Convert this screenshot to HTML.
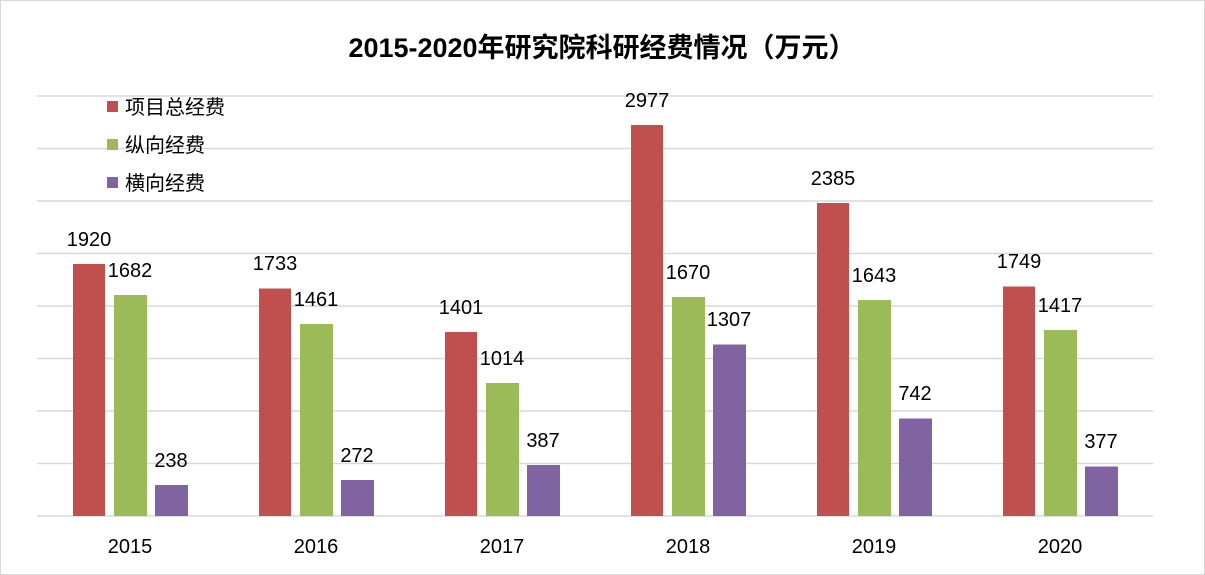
<!DOCTYPE html>
<html><head><meta charset="utf-8"><style>
body{margin:0;background:#fff}
svg{display:block}
text{font-family:"Liberation Sans","Noto Sans CJK SC",sans-serif;fill:#000}
</style></head><body>
<svg width="1205" height="575" viewBox="0 0 1205 575">
<rect x="0.5" y="0.5" width="1204" height="574" fill="#fff" stroke="#d9d9d9"/>
<text x="602" y="57" font-size="27" font-weight="bold" text-anchor="middle">2015-2020年研究院科研经费情况（万元）</text>
<g stroke="#d9d9d9" stroke-width="1.5">
<line x1="37" x2="1153" y1="96" y2="96"/><line x1="37" x2="1153" y1="148.5" y2="148.5"/>
<line x1="37" x2="1153" y1="201" y2="201"/><line x1="37" x2="1153" y1="253.5" y2="253.5"/>
<line x1="37" x2="1153" y1="306" y2="306"/><line x1="37" x2="1153" y1="358.5" y2="358.5"/>
<line x1="37" x2="1153" y1="411" y2="411"/><line x1="37" x2="1153" y1="463.5" y2="463.5"/>
<line x1="37" x2="1153" y1="516" y2="516"/>
</g>
<g font-size="20" text-anchor="middle">
<rect x="73" y="264" width="32" height="252" fill="#c0504d"/><text x="89" y="246">1920</text>
<rect x="114" y="295" width="33" height="221" fill="#9bbb59"/><text x="130" y="277">1682</text>
<rect x="155" y="485" width="33" height="31" fill="#8064a2"/><text x="171" y="467">238</text>

<rect x="259" y="288.5" width="32" height="227.5" fill="#c0504d"/><text x="275" y="270">1733</text>
<rect x="300" y="324" width="33" height="192" fill="#9bbb59"/><text x="316" y="306">1461</text>
<rect x="341" y="480" width="33" height="36" fill="#8064a2"/><text x="357" y="462">272</text>

<rect x="445" y="332" width="32" height="184" fill="#c0504d"/><text x="461" y="314">1401</text>
<rect x="486" y="383" width="33" height="133" fill="#9bbb59"/><text x="502" y="365">1014</text>
<rect x="527" y="465" width="33" height="51" fill="#8064a2"/><text x="543" y="447">387</text>

<rect x="631" y="125" width="32" height="391" fill="#c0504d"/><text x="647" y="107">2977</text>
<rect x="672" y="297" width="33" height="219" fill="#9bbb59"/><text x="688" y="279">1670</text>
<rect x="713" y="344.5" width="33" height="171.5" fill="#8064a2"/><text x="729" y="326">1307</text>

<rect x="817" y="203" width="32" height="313" fill="#c0504d"/><text x="833" y="185">2385</text>
<rect x="858" y="300" width="33" height="216" fill="#9bbb59"/><text x="874" y="282">1643</text>
<rect x="899" y="418.5" width="33" height="97.5" fill="#8064a2"/><text x="915" y="400">742</text>

<rect x="1003" y="286.5" width="32" height="229.5" fill="#c0504d"/><text x="1019" y="268">1749</text>
<rect x="1044" y="330" width="33" height="186" fill="#9bbb59"/><text x="1060" y="312">1417</text>
<rect x="1085" y="466.5" width="33" height="49.5" fill="#8064a2"/><text x="1101" y="448">377</text>

<text x="130" y="553">2015</text><text x="316" y="553">2016</text><text x="502" y="553">2017</text>
<text x="688" y="553">2018</text><text x="874" y="553">2019</text><text x="1060" y="553">2020</text>
</g>
<g font-size="20">
<rect x="107" y="101" width="11" height="11" fill="#c0504d"/><text x="125" y="114">项目总经费</text>
<rect x="107" y="139" width="11" height="11" fill="#9bbb59"/><text x="125" y="152">纵向经费</text>
<rect x="107" y="177" width="11" height="11" fill="#8064a2"/><text x="125" y="190">横向经费</text>
</g>
</svg>
</body></html>
